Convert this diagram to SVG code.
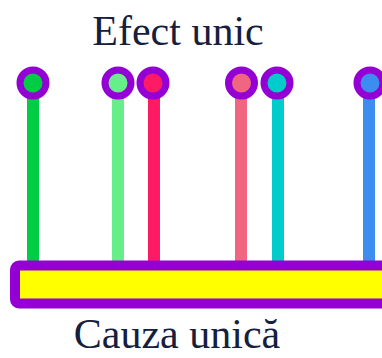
<svg xmlns="http://www.w3.org/2000/svg" width="382" height="358" viewBox="0 0 382 358">
<style>
.t{font-family:"Liberation Serif","Times New Roman",serif;font-size:42px;fill:#15203d;text-anchor:middle}
.stem{stroke-width:12;fill:none}
.ring{stroke:#9400d3;stroke-width:7}
</style>
<rect width="382" height="358" fill="#ffffff"/>
<g id="connectors">
<line class="stem" x1="33" y1="92" x2="33" y2="262" stroke="#00cc44"/>
<line class="stem" x1="118" y1="92" x2="118" y2="262" stroke="#66ee88"/>
<line class="stem" x1="154" y1="92" x2="154" y2="262" stroke="#ff1a66"/>
<line class="stem" x1="241" y1="92" x2="241" y2="262" stroke="#f06680"/>
<line class="stem" x1="278" y1="92" x2="278" y2="262" stroke="#00cccc"/>
<line class="stem" x1="369" y1="92" x2="369" y2="262" stroke="#3d8cf0"/>
</g>
<g id="cause">
<rect x="15" y="265.5" width="390" height="38" rx="4" fill="#ffff00" stroke="#9400d3" stroke-width="10"/>
<text class="t" x="177" y="348">Cauza unică</text>
</g>
<g id="effect">
<text class="t" x="178" y="45">Efect unic</text>
</g>
<g id="n1"><circle class="ring" cx="33" cy="83" r="13" fill="#00cc44"/></g>
<g id="n2"><circle class="ring" cx="118" cy="83" r="13" fill="#66ee88"/></g>
<g id="n3"><circle class="ring" cx="153" cy="83" r="13" fill="#ff1a66"/></g>
<g id="n4"><circle class="ring" cx="241.5" cy="83" r="13" fill="#f06680"/></g>
<g id="n5"><circle class="ring" cx="277" cy="83" r="13" fill="#00cccc"/></g>
<g id="n6"><circle class="ring" cx="370" cy="83" r="13" fill="#3d8cf0"/></g>
</svg>
